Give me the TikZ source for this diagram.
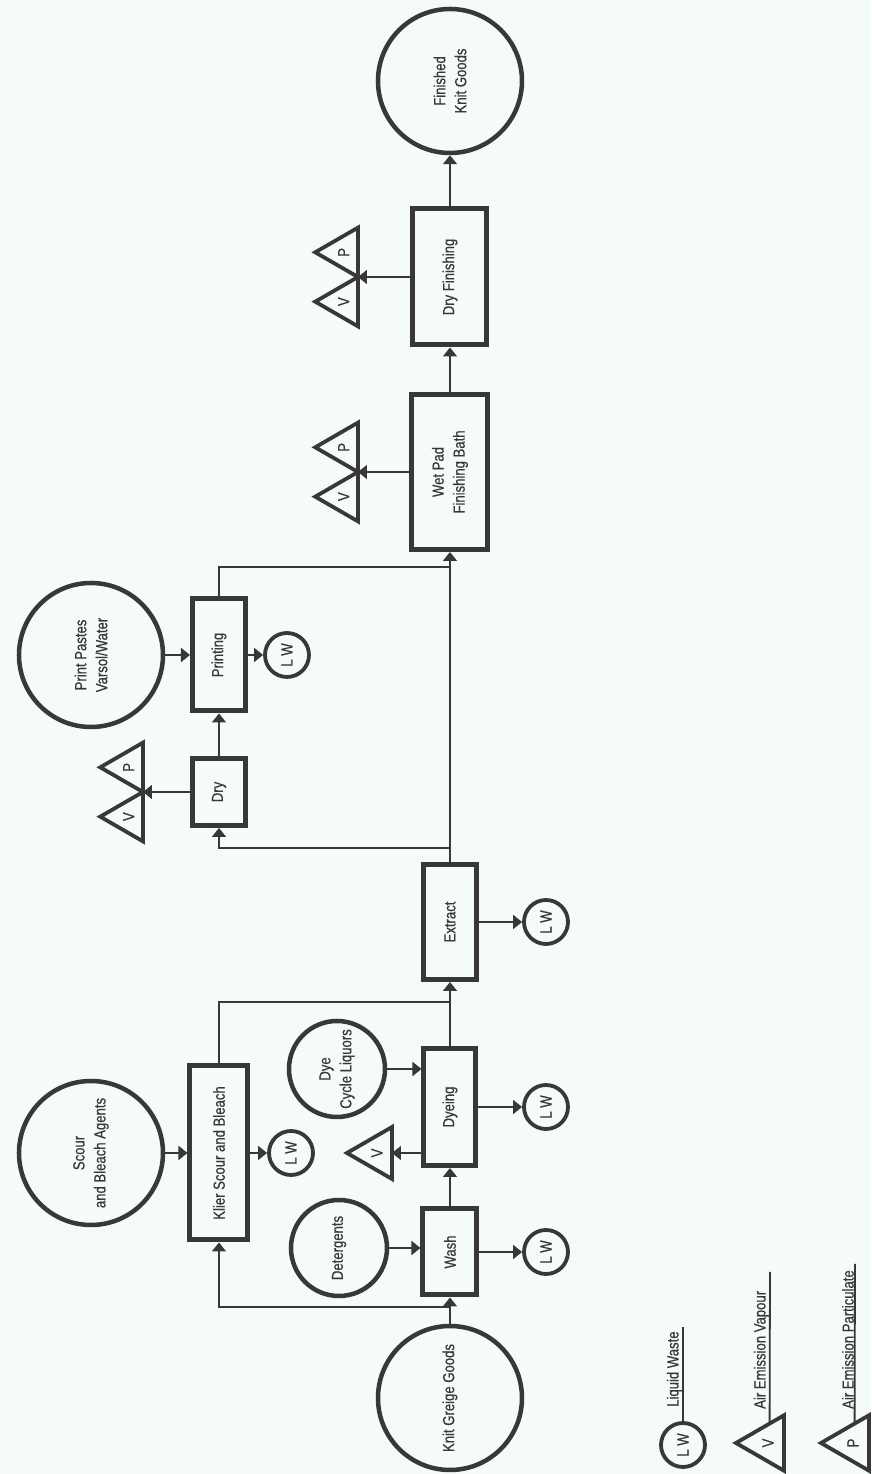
\documentclass[tikz,border=0pt]{standalone}
\usepackage{fontspec}
\newfontfamily\chartfont[FakeStretch=0.82, FakeBold=0.6]{Liberation Sans}
\usepackage{tikz}
\usetikzlibrary{shapes.geometric,arrows.meta,calc}
\definecolor{ink}{HTML}{383838}
\definecolor{paper}{HTML}{F5FBFA}

\begin{document}
\begin{tikzpicture}[x=1pt, y=1pt, rotate=90, transform shape,
  font={\chartfont\fontsize{16}{21}\selectfont}, text=ink,
  proc/.style={draw=ink, line width=5pt, rectangle, inner sep=0pt, align=center},
  src/.style={draw=ink, line width=4.5pt, circle, minimum size=144pt, inner sep=0pt, align=center},
  feed/.style={src, minimum size=96pt},
  lw/.style={draw=ink, line width=3.8pt, circle, minimum size=44pt, inner sep=0pt},
  emit/.style={draw=ink, line width=3.8pt, regular polygon, regular polygon sides=3,
    minimum size=57pt, inner sep=0pt, outer sep=0pt},
  pipe/.style={draw=ink, line width=1.8pt},
  flow/.style={pipe, -{Triangle[length=9pt,width=14pt]}}]

  % sheet
  \fill[paper] (0,0) rectangle (1474,871);
  \useasboundingbox (0,0) rectangle (1474,871);

  % main line
  \node[src] (knit) at (76,421) {Knit Greige Goods};
  \node[proc, minimum width=86pt, minimum height=54pt] (wash) at (222,421) {Wash};
  \node[proc, minimum width=117pt, minimum height=52pt] (dyeing) at (367,421) {Dyeing};
  \node[proc, minimum width=115pt, minimum height=53pt] (extract) at (552,421) {Extract};
  \node[proc, minimum width=155pt, minimum height=76pt] (wetpad) at (1002,421) {Wet Pad\\Finishing Bath};
  \node[proc, minimum width=136pt, minimum height=74pt] (dryfin) at (1197,421) {Dry Finishing};
  \node[src] (finished) at (1393,421) {Finished\\Knit Goods};

  % upper line
  \node[proc, minimum width=174pt, minimum height=58pt] (klier) at (321,652) {Klier Scour and Bleach};
  \node[proc, minimum width=67pt, minimum height=53pt] (dry) at (682,652) {Dry};
  \node[proc, minimum width=112pt, minimum height=53pt] (printing) at (819,652) {Printing};

  % chemicals in
  \node[src] (scour) at (321,780) {Scour\\and Bleach Agents};
  \node[feed] (detergents) at (226,532) {Detergents};
  \node[feed] (dye) at (405,534) {Dye\\Cycle Liquors};
  \node[src] (pastes) at (819,780) {Print Pastes\\Varsol/Water};

  % liquid waste
  \node[lw] (washlw) at (222,325) {L W};
  \node[lw] (dyeinglw) at (367,325) {L W};
  \node[lw] (extractlw) at (552,325) {L W};
  \node[lw] (klierlw) at (321,580) {L W};
  \node[lw] (printlw) at (819,584) {L W};

  % air emissions
  \node[emit, minimum size=60pt, anchor=side 2] (dyeingv) at (321,479) {V};
  \node[emit, anchor=corner 3] (dryv) at (682,728) {V};
  \node[emit, anchor=corner 2] (dryp) at (682,728) {P};
  \node[emit, anchor=corner 3] (wetpadv) at (1002,513) {V};
  \node[emit, anchor=corner 2] (wetpadp) at (1002,513) {P};
  \node[emit, anchor=corner 3] (dryfinv) at (1197,513) {V};
  \node[emit, anchor=corner 2] (dryfinp) at (1197,513) {P};

  % bends
  \coordinate (kb) at (167,421);
  \coordinate (kbup) at (167,652);
  \coordinate (kj) at (472,421);
  \coordinate (kup) at (472,652);
  \coordinate (dj) at (626,421);
  \coordinate (dup) at (626,652);
  \coordinate (pj) at (907,421);
  \coordinate (pup) at (907,652);

  % flow of goods
  \draw[flow] (knit) -- (wash);
  \draw[flow] (kb) -- (kbup) -- (klier.west);
  \draw[flow] (wash) -- (dyeing);
  \draw[pipe] (klier.east) -- (kup) -- (kj);
  \draw[flow] (dyeing) -- (extract);
  \draw[flow] (extract) -- (wetpad);
  \draw[flow] (dj) -- (dup) -- (dry.west);
  \draw[flow] (dry) -- (printing);
  \draw[pipe] (printing.east) -- (pup) -- (pj);
  \draw[flow] (wetpad) -- (dryfin);
  \draw[flow] (dryfin) -- (finished);

  % inputs
  \draw[flow] (scour) -- (klier);
  \draw[flow] (detergents) -- ($(wash.north west)!(detergents)!(wash.north east)$);
  \draw[flow] (dye) -- ($(dyeing.north west)!(dye)!(dyeing.north east)$);
  \draw[flow] (pastes) -- (printing);

  % outputs
  \draw[flow] (wash) -- (washlw);
  \draw[flow] (dyeing) -- (dyeinglw);
  \draw[flow] (extract) -- (extractlw);
  \draw[flow] (klier) -- (klierlw);
  \draw[flow] (printing) -- (printlw);
  \draw[flow] ($(dyeing.north west)!(dyeingv.side 2)!(dyeing.north east)$) -- (dyeingv.side 2);
  \draw[flow] (dry) -- (dryv.corner 3);
  \draw[flow] (wetpad) -- (wetpadv.corner 3);
  \draw[flow] (dryfin) -- (dryfinv.corner 3);

  % key
  \node[lw] (keylw) at (29,188) {L W};
  \coordinate (keylwend) at (147,188);
  \draw[pipe] (keylw) -- (keylwend);
  \node[anchor=south west, inner sep=1pt] (keylwtxt) at (66,188) {Liquid Waste};

  \node[emit, minimum size=64pt, anchor=side 2] (keyv) at (31,87) {V};
  \coordinate (keyvend) at (202,101);
  \draw[pipe] ($(keyv.corner 3)!0.3!(keyv.corner 1)$) -- (keyvend);
  \node[anchor=south west, inner sep=1pt] (keyvtxt) at (64,101) {Air Emission Vapour};

  \node[emit, minimum size=64pt, anchor=side 2] (keyp) at (31,2) {P};
  \coordinate (keypend) at (210,16);
  \draw[pipe] ($(keyp.corner 3)!0.3!(keyp.corner 1)$) -- (keypend);
  \node[anchor=south west, inner sep=1pt] (keyptxt) at (64,16) {Air Emission Particulate};
\end{tikzpicture}
\end{document}
